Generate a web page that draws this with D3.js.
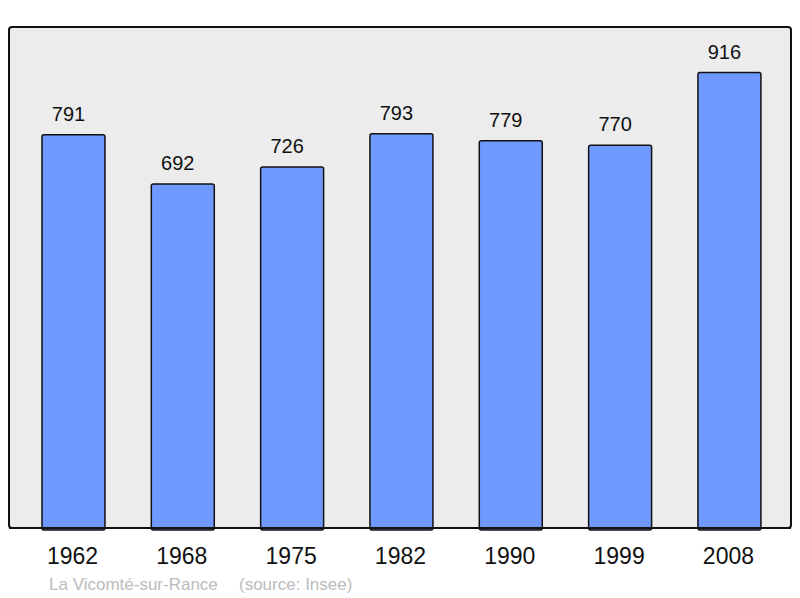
<!DOCTYPE html>
<html><head><meta charset="utf-8">
<script src="https://cdn.jsdelivr.net/npm/d3@7"></script>
<style>body{margin:0;background:#fff}svg{display:block}</style>
</head><body>
<script>
const years = ["1962","1968","1975","1982","1990","1999","2008"];
const population = [791,692,726,793,779,770,916];
const place = "La Vicomté-sur-Rance";
const source = "(source: Insee)";

const W = 800, H = 598;
const svg = d3.select("body").append("svg").attr("width", W).attr("height", H);
const panel = {x0: 9, x1: 791, y0: 27, y1: 528};
const font = "Liberation Sans, Arial, sans-serif";

svg.append("rect").attr("x", panel.x0).attr("y", panel.y0)
  .attr("width", panel.x1 - panel.x0).attr("height", panel.y1 - panel.y0)
  .attr("rx", 3).attr("fill", "#ececec").attr("stroke", "#111").attr("stroke-width", 2);

const x = d3.scaleBand().domain(years).range([18.8, 784.1]).paddingInner(0.424).paddingOuter(0.212);
const y = d3.scaleLinear().domain([0, d3.max(population) * 1.1]).range([panel.y1, panel.y0]);

const data = years.map((yr, i) => ({yr, v: population[i]}));

svg.selectAll("rect.bar").data(data).join("rect").attr("class", "bar")
  .attr("x", d => x(d.yr)).attr("y", d => y(d.v))
  .attr("width", x.bandwidth()).attr("height", d => y(0) - y(d.v) + 2)
  .attr("rx", 2).attr("fill", "#7099ff").attr("stroke", "#111").attr("stroke-width", 1.5);

svg.append("line").attr("x1", panel.x0).attr("x2", panel.x1).attr("y1", panel.y1).attr("y2", panel.y1)
  .attr("stroke", "#111").attr("stroke-width", 2);

svg.selectAll("text.val").data(data).join("text").attr("class", "val")
  .attr("x", d => x(d.yr) + x.bandwidth() / 2 - 5).attr("y", d => y(d.v) - 14)
  .attr("text-anchor", "middle").attr("font-family", font)
  .attr("font-size", 20).attr("fill", "#111").text(d => d.v);

const xAxis = d3.axisBottom(x).tickSize(0).tickPadding(0);
const gx = svg.append("g").attr("transform", `translate(0,${panel.y1})`).call(xAxis);
gx.select(".domain").remove();
gx.selectAll("text").attr("dy", null).attr("y", 36).attr("dx", -1)
  .attr("font-family", font).attr("font-size", 23).attr("fill", "#111");

svg.append("text").attr("x", 49).attr("y", 590).attr("font-family", font)
  .attr("font-size", 17).attr("fill", "#bbb").text(place);
svg.append("text").attr("x", 239).attr("y", 590).attr("font-family", font)
  .attr("font-size", 17).attr("fill", "#bbb").text(source);
</script>
</body></html>
